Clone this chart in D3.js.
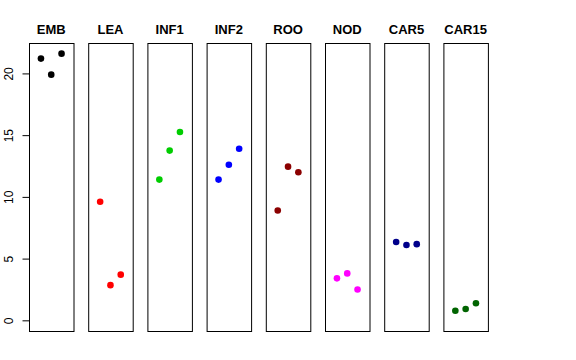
<!DOCTYPE html>
<html>
<head>
<meta charset="utf-8">
<script src="https://cdn.jsdelivr.net/npm/d3@7"></script>
<style>
  body { margin: 0; background: #fff; }
  svg { display: block; }
  text { font-family: "Liberation Sans", Arial, sans-serif; }
</style>
</head>
<body>
<svg id="chart" width="576" height="360"></svg>
<script>
// panel names and colours
var tissues = ['EMB', 'LEA', 'INF1', 'INF2', 'ROO', 'NOD', 'CAR5', 'CAR15'];
var colors = ['#000000', '#FF0000', '#00CD00', '#0000FF', '#8B0000', '#FF00FF', '#00008B', '#006400'];

// three replicates per panel
var rep1 = [21.2, 9.6, 11.4, 11.4, 8.9, 3.4, 6.35, 0.78];
var rep2 = [19.9, 2.85, 13.75, 12.6, 12.45, 3.8, 6.1, 0.92];
var rep3 = [21.6, 3.7, 15.25, 13.9, 12.0, 2.5, 6.17, 1.38];

var yTicks = [0, 5, 10, 15, 20];

var svg = d3.select('#chart');

var top_y = 43, bottom_y = 331;
var panel_w = 44.5, first_x = 29, stride = 59.2;

// y range 0..max, padded 4% like base R
var ymax = d3.max([rep1, rep2, rep3], function(a){ return d3.max(a); });
var pad = ymax * 0.04;
var y = d3.scaleLinear()
  .domain([0 - pad, ymax + pad])
  .range([bottom_y, top_y]);

// x within a panel: positions 1..3 on 0..4, padded 4%
var xIn = d3.scaleLinear()
  .domain([-0.16, 4.16])
  .range([0, panel_w]);

var panels = svg.selectAll('g.panel')
  .data(tissues)
  .enter()
  .append('g')
  .attr('class', 'panel')
  .attr('transform', function(d, i){
    return 'translate(' + (first_x + i*stride) + ',0)';
  });

panels.append('rect')
  .attr('x', 0.5)
  .attr('y', top_y + 0.5)
  .attr('width', panel_w)
  .attr('height', bottom_y - top_y)
  .attr('fill', 'none')
  .attr('stroke', '#000')
  .attr('stroke-width', 1);

panels.append('text')
  .attr('x', panel_w/2)
  .attr('y', 34)
  .attr('text-anchor', 'middle')
  .attr('font-size', 13)
  .attr('font-weight', 'bold')
  .text(function(d){ return d; });

panels.each(function(d, i){
  var vals = [rep1[i], rep2[i], rep3[i]];
  d3.select(this).selectAll('circle')
    .data(vals)
    .enter()
    .append('circle')
    .attr('cx', function(v, j){ return xIn(j + 1); })
    .attr('cy', function(v){ return y(v); })
    .attr('r', 3.3)
    .attr('fill', colors[i]);
});

// y axis on the first panel
var axis = d3.axisLeft(y)
  .tickValues(yTicks)
  .tickSize(7)
  .tickPadding(0);

var gAxis = svg.append('g')
  .attr('transform', 'translate(' + (first_x + 0.5) + ',0)')
  .call(axis);

gAxis.select('.domain').remove();
gAxis.selectAll('.tick line').attr('stroke', '#000');
gAxis.selectAll('.tick text')
  .attr('font-size', 12)
  .attr('fill', '#000')
  .attr('font-family', '"Liberation Sans", Arial, sans-serif')
  .attr('text-anchor', 'middle')
  .attr('x', null)
  .attr('transform', 'translate(-21,0) rotate(-90)')
  .attr('y', 0)
  .attr('dy', '0.35em');
</script>
</body>
</html>
